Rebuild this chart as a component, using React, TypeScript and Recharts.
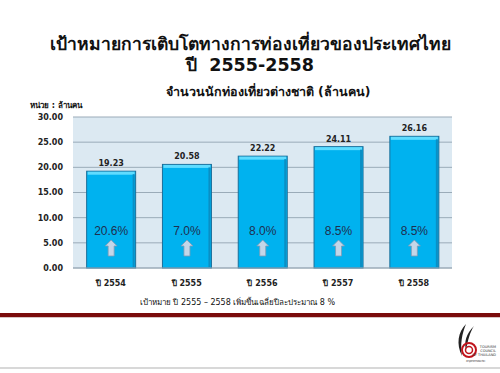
import { BarChart, Bar, XAxis, YAxis, CartesianGrid, LabelList } from "recharts";

const years = ["ปี 2554", "ปี 2555", "ปี 2556", "ปี 2557", "ปี 2558"];
const tourists = [19.23, 20.58, 22.22, 24.11, 26.16];
const growth = ["20.6%", "7.0%", "8.0%", "8.5%", "8.5%"];
const yTicks = [0, 5, 10, 15, 20, 25, 30];

const data = years.map((year, i) => ({ year, tourists: tourists[i], growth: growth[i] }));

const THAI = "Tahoma, 'DejaVu Sans', 'Noto Sans', sans-serif";

const BarShape = (props: any) => {
  const { x, y, width, height, payload } = props;
  const bottom = y + height;
  const cx = x + width / 2;
  const ay = bottom - 28;
  return (
    <g>
      <rect x={x} y={y} width={width} height={height} fill="#00b2ef" stroke="#1b6f9a" strokeWidth={1} />
      <rect x={x + 1} y={y + 0.5} width={width - 2} height={3} fill="#5fdcff" />
      <rect x={x + width - 3} y={y + 3} width={2} height={height - 4} fill="#0a8fc4" />
      <text x={cx} y={bottom - 33} textAnchor="middle" fontSize={12} fill="#1f2f4f" fontFamily="Arial, 'Liberation Sans', sans-serif">
        {payload.growth}
      </text>
      <path
        d={`M${cx} ${ay} L${cx + 6} ${ay + 6} L${cx + 3} ${ay + 6} L${cx + 3} ${ay + 16} L${cx - 3} ${ay + 16} L${cx - 3} ${ay + 6} L${cx - 6} ${ay + 6} Z`}
        fill="#c4d6e8"
        stroke="#7f9bb5"
        strokeWidth={0.8}
      />
    </g>
  );
};

export default function App() {
  return (
    <div style={{ position: "absolute", left: 0, top: 0, width: 500, height: 373, background: "#fff", fontFamily: THAI, overflow: "hidden" }}>
      <div style={{ position: "absolute", top: 34, width: 500, textAlign: "center", fontSize: 17.5, fontWeight: "bold", lineHeight: "21px", color: "#111" }}>
        เป้าหมายการเติบโตทางการท่องเที่ยวของประเทศไทย
        <br />
        ปี&nbsp; 2555-2558
      </div>
      <div style={{ position: "absolute", top: 82, left: 18, width: 500, textAlign: "center", fontSize: 12.5, fontWeight: "bold", color: "#111" }}>
        จำนวนนักท่องเที่ยวต่างชาติ (ล้านคน)
      </div>
      <div style={{ position: "absolute", top: 99, left: 30, fontSize: 8, fontWeight: "bold", color: "#111" }}>
        หน่วย : ล้านคน
      </div>
      <div style={{ position: "absolute", left: 0, top: 0 }}>
        <BarChart width={500} height={373} data={data} margin={{ top: 117, right: 48, bottom: 75, left: 33 }} barCategoryGap="18%">
          <CartesianGrid vertical={false} fill="#dce9f2" stroke="#9aabb8" />
          <XAxis
            dataKey="year"
            height={30}
            axisLine={{ stroke: "#9aabb8" }}
            tickLine={false}
            tick={{ fontSize: 8, fill: "#222", fontWeight: "bold", fontFamily: THAI }}
            tickMargin={6}
          />
          <YAxis
            width={40}
            domain={[0, 30]}
            ticks={yTicks}
            tickFormatter={(v: number) => v.toFixed(2)}
            axisLine={false}
            tickLine={false}
            tick={{ fontSize: 8, fill: "#222", fontWeight: "bold", fontFamily: "Tahoma, 'DejaVu Sans', sans-serif" }}
            tickMargin={4}
          />
          <Bar dataKey="tourists" shape={BarShape} isAnimationActive={false}>
            <LabelList dataKey="tourists" position="top" offset={5} formatter={(v: number) => v.toFixed(2)} style={{ fontSize: 8, fontWeight: "bold", fill: "#222", fontFamily: "Tahoma, 'DejaVu Sans', sans-serif" }} />
          </Bar>
        </BarChart>
      </div>
      <div style={{ position: "absolute", top: 296, width: 475, textAlign: "center", fontSize: 8, color: "#111" }}>
        เป้าหมาย ปี 2555 – 2558 เพิ่มขึ้นเฉลี่ยปีละประมาณ 8 %
      </div>
      <div style={{ position: "absolute", top: 313, left: 0, width: 500, height: 4, background: "#7a0c0c" }} />
      <div style={{ position: "absolute", top: 317, left: 0, width: 500, height: 1, background: "#d9c4c4" }} />
      <div style={{ position: "absolute", top: 367, left: 0, width: 500, height: 2, background: "#d8d8d8" }} />
      <svg style={{ position: "absolute", left: 452, top: 322 }} width={46} height={45}>
        <path d="M14 2 C6 10 4 22 10 34 C8 22 10 12 14 2 Z" fill="#222" />
        <path d="M22 4 C14 12 12 20 14 28 C16 18 18 10 22 4 Z" fill="#222" />
        <circle cx={17} cy={28} r={7} fill="none" stroke="#c0141c" strokeWidth={2} />
        <circle cx={17} cy={28} r={3.5} fill="none" stroke="#c0141c" strokeWidth={1.5} />
        <text x={44} y={26} textAnchor="end" fontSize={3.5} fill="#333">TOURISM</text>
        <text x={44} y={30} textAnchor="end" fontSize={3.5} fill="#333">COUNCIL</text>
        <text x={44} y={34} textAnchor="end" fontSize={3.5} fill="#333">OF THAILAND</text>
        <text x={23} y={40} textAnchor="middle" fontSize={2.2} fill="#555">สภาอุตสาหกรรมท่องเที่ยว</text>
      </svg>
    </div>
  );
}
